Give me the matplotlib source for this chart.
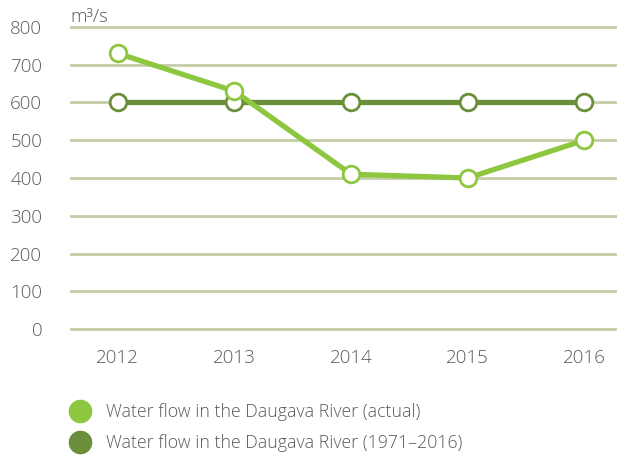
import matplotlib.pyplot as plt
from matplotlib.lines import Line2D

years = ['2012', '2013', '2014', '2015', '2016']
actual = [730, 630, 410, 400, 500]
longterm = [600, 600, 600, 600, 600]
yticks = [0, 100, 200, 300, 400, 500, 600, 700, 800]

light = '#8dc63f'
dark = '#6b8e3a'
gridc = '#c5cda9'
textc = '#5a5a5a'
fs = 13.5

plt.rcParams['font.family'] = ['Open Sans', 'DejaVu Sans']

fig = plt.figure(figsize=(6.17, 4.58), dpi=100)
ax = fig.add_axes([70 / 617, 1 - 332.8 / 458, 1 - 70 / 617, (332.8 - 23.2) / 458])

x = list(range(len(years)))
ax.plot(x, longterm, color=dark, lw=3.8, marker='o', ms=12,
        mfc='white', mec=dark, mew=2, zorder=3)
ax.plot(x, actual, color=light, lw=3.8, marker='o', ms=12,
        mfc='white', mec=light, mew=2, zorder=4)

ax.set_xlim(-0.41, 4.28)
ax.set_ylim(-10, 810)
ax.set_yticks(yticks)
ax.set_yticklabels([str(v) for v in yticks])
ax.set_xticks(x)
ax.set_xticklabels(years)
ax.tick_params(axis='y', length=0, pad=20, labelsize=fs, labelcolor=textc)
ax.tick_params(axis='x', length=0, pad=12, labelsize=fs, labelcolor=textc)
for lab in ax.get_yticklabels() + ax.get_xticklabels():
    lab.set_fontweight('light')

ax.grid(axis='y', color=gridc, lw=2)
ax.set_axisbelow(True)
for s in ax.spines.values():
    s.set_visible(False)

fig.text(70 / 617, 1 - 17 / 458, 'm³/s', fontsize=fs, color=textc,
         va='center', ha='left', fontweight='light')

handles = [
    Line2D([], [], ls='none', marker='o', ms=16, mfc=light, mec=light),
    Line2D([], [], ls='none', marker='o', ms=16, mfc=dark, mec=dark),
]
labels = ['Water flow in the Daugava River (actual)',
          'Water flow in the Daugava River (1971–2016)']
leg = fig.legend(handles, labels, loc='upper left',
                 bbox_to_anchor=(62 / 617, 1 - 396 / 458), frameon=False,
                 fontsize=12.8, handletextpad=0.85, labelspacing=0.75,
                 borderaxespad=0, handlelength=1.2)
for t in leg.get_texts():
    t.set_color(textc)
    t.set_fontweight('light')

fig.savefig('out.png', dpi=100)
